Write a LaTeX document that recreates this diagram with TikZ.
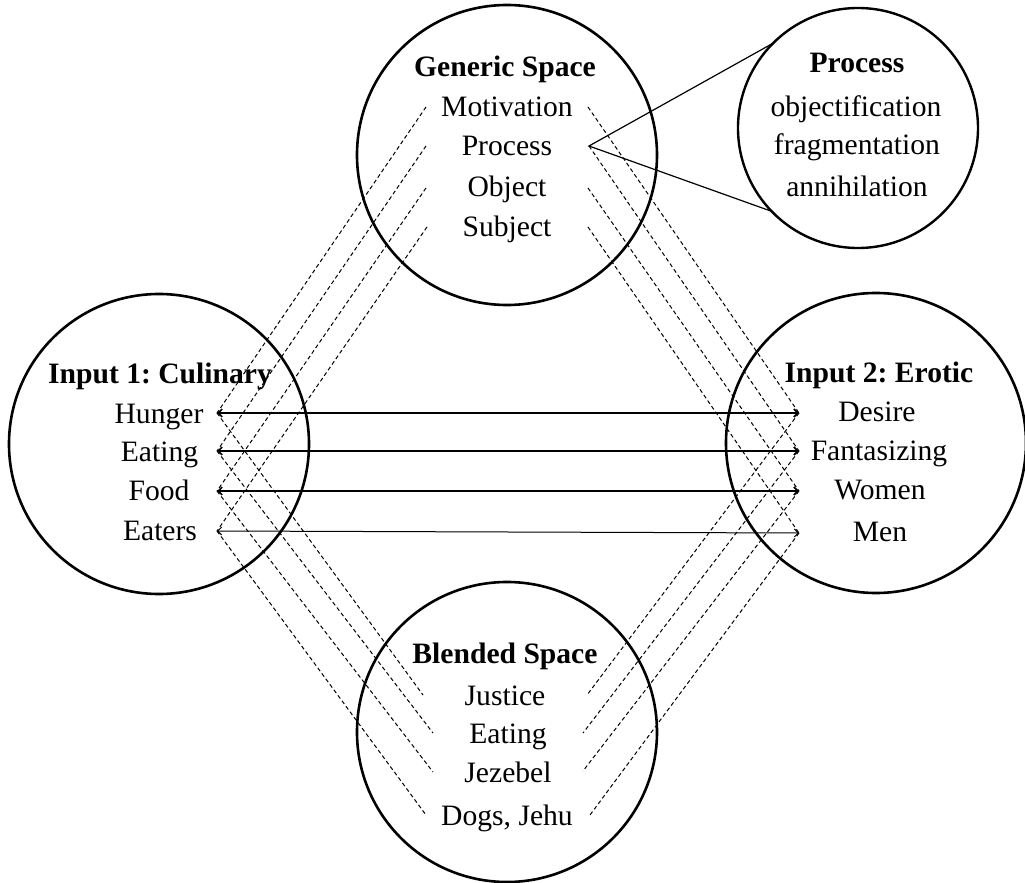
\documentclass[tikz,border=0pt]{standalone}
\usepackage{fontspec}
\setmainfont{Liberation Serif}
\usetikzlibrary{arrows.meta}
\frenchspacing

\begin{document}
\begin{tikzpicture}[x=0.5pt,y=-0.5pt,
	space/.style={circle,draw,line width=1.3pt,minimum size=150pt,inner sep=0pt,outer sep=0pt},
	zoomspace/.style={circle,draw,line width=1.2pt,minimum size=120pt,inner sep=0pt,outer sep=0pt},
	title/.style={anchor=base,font=\fontsize{14.8}{17}\selectfont\bfseries},
	item/.style={anchor=base,font=\fontsize{14.8}{17}\selectfont},
	map/.style={line width=0.5pt,dash pattern=on 2pt off 1.4pt},
	match/.style={line width=0.85pt,{Straight Barb[length=2pt,width=4pt]}-{Straight Barb[length=2pt,width=4pt]}},
	zoomline/.style={line width=0.6pt}]
	\useasboundingbox (0,0) rectangle (1025,883);
	% the five spaces
	\node[space] (gen) at (507,155) {};
	\node[space] (inone) at (159,444) {};
	\node[space] (intwo) at (876,443) {};
	\node[space] (blend) at (507,732) {};
	\node[zoomspace] (proc) at (858,128) {};
	% generic space
	\node[title] (gentitle) at (505,77) {Generic Space};
	\node[item] (gmot) at (507,117) {Motivation};
	\node[item] (gproc) at (507,156) {Process};
	\node[item] (gobj) at (507,197) {Object};
	\node[item] (gsubj) at (507,237) {Subject};
	% process detail
	\node[title] (proctitle) at (857,73) {Process};
	\node[item] (pobj) at (856,117) {objectification};
	\node[item] (pfrag) at (857,155) {fragmentation};
	\node[item] (pann) at (857,197) {annihilation};
	% input 1
	\node[title] (onetitle) at (160,384) {Input 1: Culinary};
	\node[item] (hunger) at (159,423) {Hunger};
	\node[item] (eatone) at (159.5,461) {Eating};
	\node[item] (food) at (159,501) {Food};
	\node[item] (eaters) at (160,540) {Eaters};
	% input 2
	\node[title] (twotitle) at (879,383) {Input 2: Erotic};
	\node[item] (desire) at (877,422) {Desire};
	\node[item] (fantas) at (879,460) {Fantasizing};
	\node[item] (women) at (880,500) {Women};
	\node[item] (men) at (880,542) {Men};
	% blended space
	\node[title] (bltitle) at (505,663) {Blended Space};
	\node[item] (justice) at (505,705) {Justice};
	\node[item] (eatbl) at (508,743) {Eating};
	\node[item] (jezebel) at (508,782) {Jezebel};
	\node[item] (dogs) at (507,825) {Dogs, Jehu};
	% line ends
	\coordinate (gl1) at (426,107); \coordinate (gr1) at (588,107);
	\coordinate (gl2) at (426,146); \coordinate (gr2) at (589,146);
	\coordinate (gl3) at (426,188); \coordinate (gr3) at (588,188);
	\coordinate (gl4) at (427,227); \coordinate (gr4) at (588,227);
	\coordinate (a1) at (217,413); \coordinate (b1) at (799,413);
	\coordinate (a2) at (217,451); \coordinate (b2) at (799,451);
	\coordinate (a3) at (217,491); \coordinate (b3) at (799,491);
	\coordinate (a4) at (217,531); \coordinate (b4) at (799,533);
	\coordinate (cl1) at (423,695); \coordinate (cr1) at (587,695);
	\coordinate (cl2) at (433,733); \coordinate (cr2) at (583,733);
	\coordinate (cl3) at (433,772); \coordinate (cr3) at (583,771);
	\coordinate (cl4) at (426,815); \coordinate (cr4) at (590,815);
	% cross-space mappings
	\draw[match] (a1) -- (b1);
	\draw[match] (a2) -- (b2);
	\draw[match] (a3) -- (b3);
	\draw[match,line width=0.5pt] (a4) -- (b4);
	\foreach \i in {1,...,4}{
		\draw[map] (gl\i) -- (a\i);
		\draw[map] (gr\i) -- (b\i);
		\draw[map] (a\i) -- (cl\i);
		\draw[map] (b\i) -- (cr\i);
	}
	% zoom onto process
	\draw[zoomline] (proc.135) -- (gr2) -- (proc.224);
\end{tikzpicture}
\end{document}
